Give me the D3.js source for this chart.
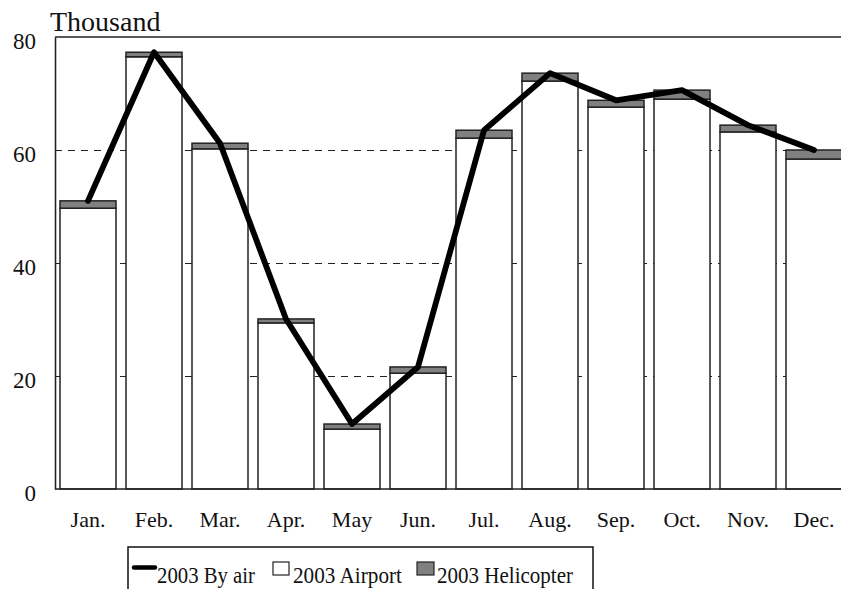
<!DOCTYPE html>
<html>
<head>
<meta charset="utf-8">
<script src="https://cdn.jsdelivr.net/npm/d3@7"></script>
<style>
  html, body { margin: 0; padding: 0; background: #fff; }
  svg { display: block; }
  text { font-family: "Liberation Serif", "Times New Roman", serif; fill: #111; }
</style>
</head>
<body>
<svg id="chart" width="841" height="589"></svg>
<script>
// Monthly passengers, 2003 (thousand)
const months = ["Jan.", "Feb.", "Mar.", "Apr.", "May", "Jun.", "Jul.", "Aug.", "Sep.", "Oct.", "Nov.", "Dec."];
const airport = [49.7, 76.5, 60.2, 29.4, 10.6, 20.5, 62.1, 72.2, 67.6, 69.0, 63.2, 58.4];
const helicopter = [1.3, 0.8, 1.0, 0.7, 0.9, 1.1, 1.4, 1.4, 1.2, 1.6, 1.2, 1.6];
const byAir = [51.0, 77.3, 61.2, 30.1, 11.5, 21.6, 63.5, 73.6, 68.8, 70.6, 64.4, 60.0];
const yTicks = [0, 20, 40, 60, 80];

const svg = d3.select("#chart");

const x = d3.scaleBand()
  .domain(months)
  .range([55, 847])
  .paddingInner(10 / 66)
  .paddingOuter(5 / 66);

const y = d3.scaleLinear().domain([0, 80]).range([489, 37]);

// dashed gridlines (hidden behind the bars)
svg.append("g")
  .selectAll("line")
  .data(yTicks.filter(d => d > 0 && d < 80))
  .join("line")
  .attr("x1", 55).attr("x2", 847)
  .attr("y1", d => y(d) + 0.5).attr("y2", d => y(d) + 0.5)
  .attr("stroke", "#222")
  .attr("stroke-width", 1)
  .attr("shape-rendering", "crispEdges")
  .attr("stroke-dasharray", "7,6");

// top line at 80
svg.append("line")
  .attr("x1", 55).attr("x2", 847)
  .attr("y1", y(80)).attr("y2", y(80))
  .attr("stroke", "#222").attr("stroke-width", 1.6);

// y axis line and labels
const yAxis = d3.axisLeft(y).tickValues(yTicks).tickSize(0).tickPadding(19);
const gy = svg.append("g").attr("transform", "translate(55,0)").call(yAxis);
gy.select(".domain").attr("stroke", "#222").attr("stroke-width", 1.6);
gy.selectAll("text")
  .attr("font-size", 23)
  .attr("font-family", "Liberation Serif, serif")
  .attr("dy", "0.52em")
  .attr("fill", "#111");

svg.append("text")
  .attr("x", 50).attr("y", 31)
  .attr("font-size", 28)
  .text("Thousand");

// stacked bars: airport at the bottom, helicopter on top
const bars = svg.append("g");
bars.selectAll("rect.airport")
  .data(months)
  .join("rect")
  .attr("class", "airport")
  .attr("x", d => x(d))
  .attr("width", x.bandwidth())
  .attr("y", (d, i) => y(airport[i]))
  .attr("height", (d, i) => y(0) - y(airport[i]))
  .attr("fill", "#fff")
  .attr("stroke", "#222")
  .attr("stroke-width", 1.5);

bars.selectAll("rect.heli")
  .data(months)
  .join("rect")
  .attr("class", "heli")
  .attr("x", d => x(d))
  .attr("width", x.bandwidth())
  .attr("y", (d, i) => y(airport[i] + helicopter[i]))
  .attr("height", (d, i) => y(airport[i]) - y(airport[i] + helicopter[i]))
  .attr("fill", "#808080")
  .attr("stroke", "#222")
  .attr("stroke-width", 1.5);

// x axis line and month labels
const xAxis = d3.axisBottom(x).tickSize(0).tickPadding(0);
const gx = svg.append("g").attr("transform", `translate(0,${y(0)})`).call(xAxis);
gx.select(".domain").attr("stroke", "#222").attr("stroke-width", 1.6)
  .attr("d", `M55,0H847`);
gx.selectAll("text")
  .attr("font-size", 22)
  .attr("font-family", "Liberation Serif, serif")
  .attr("fill", "#111")
  .attr("dy", null)
  .attr("y", 38);

// total by air line
const line = d3.line()
  .x((d, i) => x(months[i]) + x.bandwidth() / 2)
  .y(d => y(d));
svg.append("path")
  .datum(byAir)
  .attr("d", line)
  .attr("fill", "none")
  .attr("stroke", "#000")
  .attr("stroke-width", 5.8)
  .attr("stroke-linejoin", "round")
  .attr("stroke-linecap", "round");

// legend
const lg = svg.append("g");
lg.append("rect")
  .attr("x", 128).attr("y", 547)
  .attr("width", 465).attr("height", 60)
  .attr("fill", "#fff").attr("stroke", "#111").attr("stroke-width", 1.5);

lg.append("line")
  .attr("x1", 134).attr("x2", 155)
  .attr("y1", 567.5).attr("y2", 567.5)
  .attr("stroke", "#000").attr("stroke-width", 4.5)
  .attr("stroke-linecap", "round");
lg.append("text").attr("x", 157).attr("y", 583).attr("font-size", 23)
  .attr("textLength", 98).attr("lengthAdjust", "spacingAndGlyphs")
  .text("2003 By air");

lg.append("rect")
  .attr("x", 273).attr("y", 562).attr("width", 16).attr("height", 13)
  .attr("fill", "#fff").attr("stroke", "#222").attr("stroke-width", 1.2);
lg.append("text").attr("x", 293).attr("y", 583).attr("font-size", 23)
  .attr("textLength", 109).attr("lengthAdjust", "spacingAndGlyphs")
  .text("2003 Airport");

lg.append("rect")
  .attr("x", 417).attr("y", 562).attr("width", 17).attr("height", 13)
  .attr("fill", "#808080").attr("stroke", "#222").attr("stroke-width", 1.2);
lg.append("text").attr("x", 437).attr("y", 583).attr("font-size", 23)
  .attr("textLength", 136).attr("lengthAdjust", "spacingAndGlyphs")
  .text("2003 Helicopter");
</script>
</body>
</html>
